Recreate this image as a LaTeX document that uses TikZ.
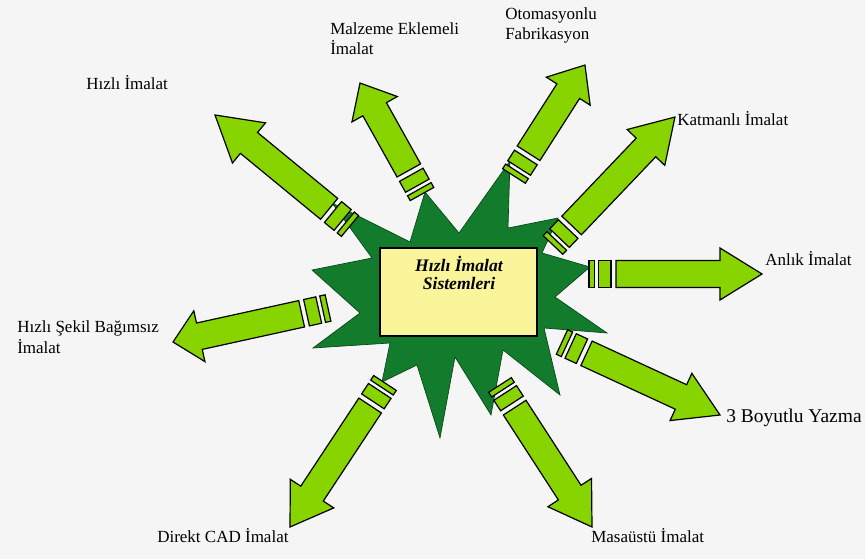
\documentclass[tikz,border=0pt]{standalone}
\usepackage{fontspec}
\setmainfont{Liberation Serif}
\definecolor{bgc}{RGB}{245,245,245}
\definecolor{stargreen}{RGB}{18,124,44}
\definecolor{starline}{RGB}{8,70,24}
\definecolor{lime}{RGB}{136,212,0}
\definecolor{boxyellow}{RGB}{250,245,155}
\newdimen\ardx
\newdimen\ardy
\newcommand\blockarrow[3]{%
  \pgfextractx{\ardx}{\pgfpointdiff{\pgfpointanchor{#1}{center}}{\pgfpointanchor{#2}{center}}}%
  \pgfextracty{\ardy}{\pgfpointdiff{\pgfpointanchor{#1}{center}}{\pgfpointanchor{#2}{center}}}%
  \pgfmathsetmacro\arang{atan2(\ardy,\ardx)}%
  \pgfmathsetmacro\arlen{veclen(\ardx,\ardy)/0.75}%
  \pgfmathsetmacro\arneck{\arlen-#3}%
  \begin{scope}[shift={(#1)}, rotate=\arang, x=0.75pt, y=0.75pt]
    \draw[arrowpart] (0,-13.5) rectangle (5.5,13.5);
    \draw[arrowpart] (9.5,-13.5) rectangle (22,13.5);
    \draw[arrowpart] (27,-13.5) -- (\arneck,-13.5) -- (\arneck,-26) -- (\arlen,0)
      -- (\arneck,26) -- (\arneck,13.5) -- (27,13.5) -- cycle;
  \end{scope}}
\begin{document}
\begin{tikzpicture}[x=0.75pt,y=-0.75pt,
  arrowpart/.style={fill=lime, draw=black, line width=0.9pt, line join=miter},
  lbl/.style={anchor=base west, inner sep=0pt, font=\fontsize{12.75}{15}\selectfont},
  corebox/.style={draw=black, line width=1.2pt, fill=boxyellow, minimum width=117.75pt, minimum height=66pt, inner sep=0pt},
  coretxt/.style={anchor=base, inner sep=0pt, font=\fontsize{13.2}{15}\selectfont\bfseries\itshape}]
\fill[bgc] (0,0) rectangle (865,559);
\useasboundingbox (0,0) rectangle (865,559);
% starburst
\fill[stargreen, draw=starline, line width=0.5pt, line join=miter]
  (332,203) -- (410,242) -- (425,192) -- (459,233) -- (510,161) -- (508,228)
  -- (558,218) -- (542,253) -- (590,267) -- (555,297) -- (607,333) -- (544,328)
  -- (560,395) -- (503,350) -- (491,415) -- (455,357) -- (440,438) -- (417,365)
  -- (382,382) -- (390,343) -- (313,348) -- (360,313) -- (312,270) -- (372,258) -- cycle;
% central box
\node[corebox] (core) at (458.5,292) {};
\node[coretxt] (coretxt1) at (459,272) {Hızlı İmalat};
\node[coretxt] (coretxt2) at (459,290) {Sistemleri};
% arrow end points
\coordinate (t1) at (350,226); \coordinate (h1) at (215,115);
\coordinate (t2) at (422,194); \coordinate (h2) at (360,83);
\coordinate (t3) at (514,176); \coordinate (h3) at (585,65);
\coordinate (t4) at (553,245); \coordinate (h4) at (675,117);
\coordinate (t5) at (589,274); \coordinate (h5) at (762,274);
\coordinate (t6) at (562,342); \coordinate (h6) at (720,415);
\coordinate (t7) at (500,385); \coordinate (h7) at (592,527);
\coordinate (t8) at (385,383); \coordinate (h8) at (290,527);
\coordinate (t9) at (328,308); \coordinate (h9) at (173,342);
\blockarrow{t1}{h1}{44}
\blockarrow{t2}{h2}{30}
\blockarrow{t3}{h3}{31}
\blockarrow{t4}{h4}{42}
\blockarrow{t5}{h5}{42}
\blockarrow{t6}{h6}{43}
\blockarrow{t7}{h7}{41}
\blockarrow{t8}{h8}{40}
\blockarrow{t9}{h9}{27}
% labels
\node[lbl] (l1) at (86,90) {Hızlı İmalat};
\node[lbl] (l2a) at (330,35) {Malzeme Eklemeli};
\node[lbl] (l2b) at (330,55) {İmalat};
\node[lbl] (l3a) at (505,20) {Otomasyonlu};
\node[lbl] (l3b) at (505,40) {Fabrikasyon};
\node[lbl] (l4) at (677,126) {Katmanlı İmalat};
\node[lbl] (l5) at (765,266) {Anlık İmalat};
\node[lbl, font=\fontsize{14.6}{17}\selectfont] (l6) at (726,423) {3 Boyutlu Yazma};
\node[lbl] (l7) at (591,543) {Masaüstü İmalat};
\node[lbl] (l8) at (157,543) {Direkt CAD İmalat};
\node[lbl] (l9a) at (17,333) {Hızlı Şekil Bağımsız};
\node[lbl] (l9b) at (17,354) {İmalat};
\end{tikzpicture}
\end{document}
